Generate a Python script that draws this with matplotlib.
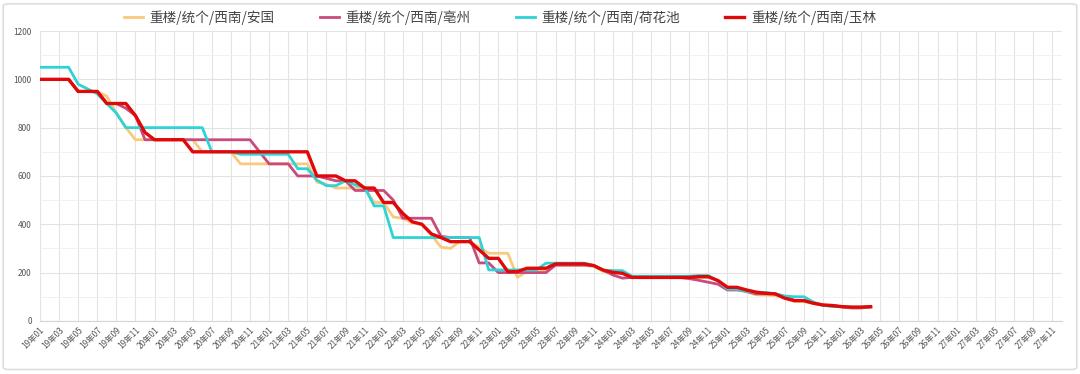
import numpy as np
import matplotlib.pyplot as plt
from matplotlib.patches import FancyBboxPatch
from matplotlib.ticker import MultipleLocator

plt.rcParams['font.family'] = ['Noto Sans CJK SC', 'DejaVu Sans']

# months 19年01 .. 27年12
months = ["%02d年%02d" % (y, m) for y in range(19, 28) for m in range(1, 13)]

names = ["重楼/统个/西南/安国", "重楼/统个/西南/亳州", "重楼/统个/西南/荷花池", "重楼/统个/西南/玉林"]
colors = ["#F9C97D", "#C94A7C", "#2ED3D5", "#E00808"]

anguo = [1000, 1000, 1000, 1000, 950, 950, 950, 930, 860, 800,
         750, 750, 750, 750, 750, 750, 750, 700, 700, 700,
         700, 650, 650, 650, 650, 650, 650, 650, 650, 575,
         565, 550, 550, 550, 550, 490, 490, 430, 425, 405,
         400, 355, 305, 300, 330, 330, 305, 280, 280, 280,
         180, 205, 210, 210, 230, 230, 230, 230, 225, 205,
         200, 200, 180, 180, 180, 180, 180, 180, 180, 180,
         180, 168, 140, 138, 120, 108, 107, 105, 95, 80,
         80, 72, 65, 62, 57, 53, 53, 57]

bozhou = [1000, 1000, 1000, 1000, 950, 950, 950, 900, 900, 880,
          850, 750, 750, 750, 750, 750, 750, 750, 750, 750,
          750, 750, 750, 700, 650, 650, 650, 600, 600, 600,
          590, 580, 580, 540, 540, 540, 540, 500, 425, 425,
          425, 425, 350, 345, 345, 345, 240, 240, 200, 200,
          200, 200, 200, 200, 231, 231, 231, 231, 229, 210,
          190, 177, 180, 180, 180, 180, 180, 180, 175, 168,
          160, 152, 128, 128, 122, 112, 112, 112, 100, 85,
          85, 75, 65, 65, 58, 54, 54, 58]

hehuachi = [1050, 1050, 1050, 1050, 980, 960, 940, 900, 860, 800,
            800, 800, 800, 800, 800, 800, 800, 800, 700, 700,
            700, 690, 690, 690, 690, 690, 690, 630, 630, 583,
            560, 560, 580, 563, 553, 476, 476, 345, 345, 345,
            345, 345, 345, 345, 345, 345, 345, 211, 211, 211,
            211, 211, 211, 239, 239, 239, 239, 239, 229, 210,
            208, 208, 185, 185, 185, 185, 185, 185, 185, 188,
            188, 165, 131, 131, 122, 118, 118, 112, 103, 100,
            100, 78, 64, 60, 59, 57, 57, 59]

yulin = [1000, 1000, 1000, 1000, 950, 950, 950, 900, 900, 900,
         850, 780, 750, 750, 750, 750, 700, 700, 700, 700,
         700, 700, 700, 700, 700, 700, 700, 700, 700, 600,
         600, 600, 580, 580, 550, 550, 490, 490, 445, 410,
         400, 360, 345, 328, 328, 328, 294, 259, 259, 204,
         204, 218, 218, 218, 236, 236, 236, 236, 229, 210,
         201, 197, 180, 180, 180, 180, 180, 180, 180, 183,
         183, 167, 139, 139, 128, 119, 114, 112, 94, 84,
         84, 73, 66, 63, 59, 57, 57, 59]

series = [anguo, bozhou, hehuachi, yulin]
widths = [2.0, 2.0, 2.0, 2.4]

fig = plt.figure(figsize=(10.8, 3.74), dpi=100)
ax = fig.add_axes([0.037, 0.142, 0.946, 0.775])

x = np.arange(len(months))
for name, vals, c, lw in zip(names, series, colors, widths):
    ax.plot(x[:len(vals)], vals, color=c, lw=lw, label=name, solid_joinstyle='round')

ax.set_xlim(0, len(months) - 1)
ax.set_ylim(0, 1200)
ax.yaxis.set_major_locator(MultipleLocator(200))
ax.yaxis.set_minor_locator(MultipleLocator(100))
ax.set_xticks(x[::2])
ax.set_xticklabels(months[::2], rotation=45, ha='right', va='top',
                   rotation_mode='anchor', fontsize=6, color='#555555')
ax.tick_params(axis='y', labelsize=6, colors='#555555', length=0, pad=6)
ax.tick_params(axis='x', length=0, pad=3)
ax.tick_params(which='minor', length=0)
ax.grid(True, which='major', color='#e3e3e3', lw=0.8)
ax.grid(True, which='minor', axis='y', color='#efefef', lw=0.6)
ax.set_axisbelow(True)
for s in ['top', 'right', 'left']:
    ax.spines[s].set_visible(False)
ax.spines['bottom'].set_color('#d5d5d5')

fig.legend(loc='center', bbox_to_anchor=(0.463, 0.953), ncol=4, frameon=False,
           fontsize=9.8, handlelength=1.4, columnspacing=3.3, handletextpad=0.5,
           labelcolor='#444444')

fig.patches.append(FancyBboxPatch((0.003, 0.012), 0.994, 0.978,
                                  boxstyle='round,pad=0,rounding_size=0.006',
                                  transform=fig.transFigure, fill=False,
                                  ec='#dddddd', lw=1.2))

fig.savefig('out.png', dpi=100)
